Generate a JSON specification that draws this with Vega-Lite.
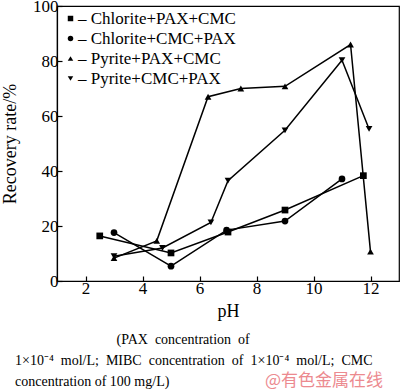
{
  "$schema": "https://vega.github.io/schema/vega-lite/v6.json",
  "width": 342,
  "height": 275,
  "autosize": "none",
  "padding": {"left": 57, "top": 6, "right": 1, "bottom": 111},
  "background": "white",
  "config": {
    "font": "Liberation Serif",
    "view": {"stroke": "black", "strokeWidth": 1.2},
    "style": {"guide-label": {"font": "Liberation Serif"}, "guide-title": {"font": "Liberation Serif"}},
    "axis": {
      "grid": false,
      "domainColor": "black",
      "domainWidth": 1.2,
      "tickColor": "black",
      "tickSize": -5,
      "tickWidth": 1.2,
      "labelFont": "Liberation Serif",
      "labelFontSize": 17,
      "labelColor": "black",
      "titleFont": "Liberation Serif",
      "titleFontSize": 18,
      "titleFontWeight": "normal",
      "titleColor": "black"
    }
  },
  "title": {
    "text": [
      "\u200b\u00a0\u00a0\u00a0\u00a0\u00a0\u00a0\u00a0\u00a0\u00a0\u00a0\u00a0\u00a0\u00a0\u00a0\u00a0\u00a0\u00a0\u00a0\u00a0\u00a0\u00a0\u00a0\u00a0\u00a0\u00a0\u00a0\u00a0\u00a0\u00a0(PAX \u00a0concentration \u00a0of",
      "1×10⁻⁴ \u00a0mol/L; \u00a0MIBC \u00a0concentration \u00a0of \u00a01×10⁻⁴ \u00a0mol/L; \u00a0CMC",
      "concentration of 100 mg/L)"
    ],
    "orient": "bottom",
    "anchor": "start",
    "align": "left",
    "frame": "group",
    "dx": -42,
    "offset": -56,
    "font": "Liberation Serif",
    "fontSize": 14,
    "fontWeight": "normal",
    "lineHeight": 21,
    "color": "black"
  },
  "data": {
    "values": [
      {"series": "Chlorite+PAX+CMC", "pH": 2.5, "recovery": 16.4},
      {"series": "Chlorite+PAX+CMC", "pH": 5.0, "recovery": 10.2},
      {"series": "Chlorite+PAX+CMC", "pH": 7.0, "recovery": 17.8},
      {"series": "Chlorite+PAX+CMC", "pH": 9.0, "recovery": 25.8},
      {"series": "Chlorite+PAX+CMC", "pH": 11.75, "recovery": 38.3},
      {"series": "Chlorite+CMC+PAX", "pH": 3.0, "recovery": 17.6},
      {"series": "Chlorite+CMC+PAX", "pH": 5.0, "recovery": 5.4},
      {"series": "Chlorite+CMC+PAX", "pH": 6.95, "recovery": 18.5},
      {"series": "Chlorite+CMC+PAX", "pH": 9.0, "recovery": 21.8},
      {"series": "Chlorite+CMC+PAX", "pH": 11.0, "recovery": 37.1},
      {"series": "Pyrite+PAX+CMC", "pH": 3.0, "recovery": 8.3},
      {"series": "Pyrite+PAX+CMC", "pH": 4.5, "recovery": 14.6},
      {"series": "Pyrite+PAX+CMC", "pH": 6.3, "recovery": 67.0},
      {"series": "Pyrite+PAX+CMC", "pH": 7.45, "recovery": 70.0},
      {"series": "Pyrite+PAX+CMC", "pH": 9.0, "recovery": 70.8},
      {"series": "Pyrite+PAX+CMC", "pH": 11.3, "recovery": 86.0},
      {"series": "Pyrite+PAX+CMC", "pH": 12.0, "recovery": 10.7},
      {"series": "Pyrite+CMC+PAX", "pH": 3.0, "recovery": 9.0},
      {"series": "Pyrite+CMC+PAX", "pH": 4.7, "recovery": 12.0},
      {"series": "Pyrite+CMC+PAX", "pH": 6.4, "recovery": 21.3},
      {"series": "Pyrite+CMC+PAX", "pH": 7.0, "recovery": 36.5},
      {"series": "Pyrite+CMC+PAX", "pH": 9.0, "recovery": 54.8},
      {"series": "Pyrite+CMC+PAX", "pH": 11.0, "recovery": 80.3},
      {"series": "Pyrite+CMC+PAX", "pH": 11.95, "recovery": 55.3}
    ]
  },
  "encoding": {
    "x": {
      "field": "pH",
      "type": "quantitative",
      "title": "pH",
      "scale": {"domain": [1, 13], "nice": false, "zero": false},
      "axis": {"values": [2, 4, 6, 8, 10, 12], "labelFont": "Liberation Serif", "labelFontSize": 17, "labelPadding": 4, "titlePadding": 6}
    },
    "y": {
      "field": "recovery",
      "type": "quantitative",
      "title": "Recovery rate/%",
      "scale": {"domain": [0, 100], "nice": false},
      "axis": {"values": [0, 20, 40, 60, 80, 100], "labelFont": "Liberation Serif", "labelFontSize": 17, "labelPadding": 4, "titlePadding": 13}
    }
  },
  "layer": [
    {
      "mark": {"type": "line", "color": "black", "strokeWidth": 1.5},
      "encoding": {"detail": {"field": "series"}}
    },
    {
      "mark": {"type": "point", "filled": true, "color": "black", "size": 45, "opacity": 1},
      "encoding": {
        "shape": {
          "field": "series",
          "type": "nominal",
          "scale": {
            "domain": ["Chlorite+PAX+CMC", "Chlorite+CMC+PAX", "Pyrite+PAX+CMC", "Pyrite+CMC+PAX"],
            "range": ["square", "circle", "triangle-up", "triangle-down"]
          },
          "legend": {
            "title": null,
            "orient": "none",
            "legendX": 5,
            "legendY": 4,
            "padding": 0,
            "labelExpr": "'–\u00a0' + datum.label",
            "labelFont": "Liberation Serif",
            "labelFontSize": 17,
            "labelLimit": 300,
            "labelColor": "black",
            "labelOffset": -1,
            "symbolSize": 30,
            "symbolFillColor": "black",
            "symbolStrokeColor": "black",
            "symbolStrokeWidth": 0,
            "rowPadding": 2
          }
        }
      }
    },
    {
      "data": {"values": [{"pH": 10.37, "recovery": -36.4, "mark": "@有色金属在线"}]},
      "mark": {"type": "text", "clip": false, "font": "Noto Sans CJK SC", "fontSize": 17, "color": "#ec8a8f", "align": "center", "baseline": "middle"},
      "encoding": {"text": {"field": "mark"}}
    }
  ]
}
